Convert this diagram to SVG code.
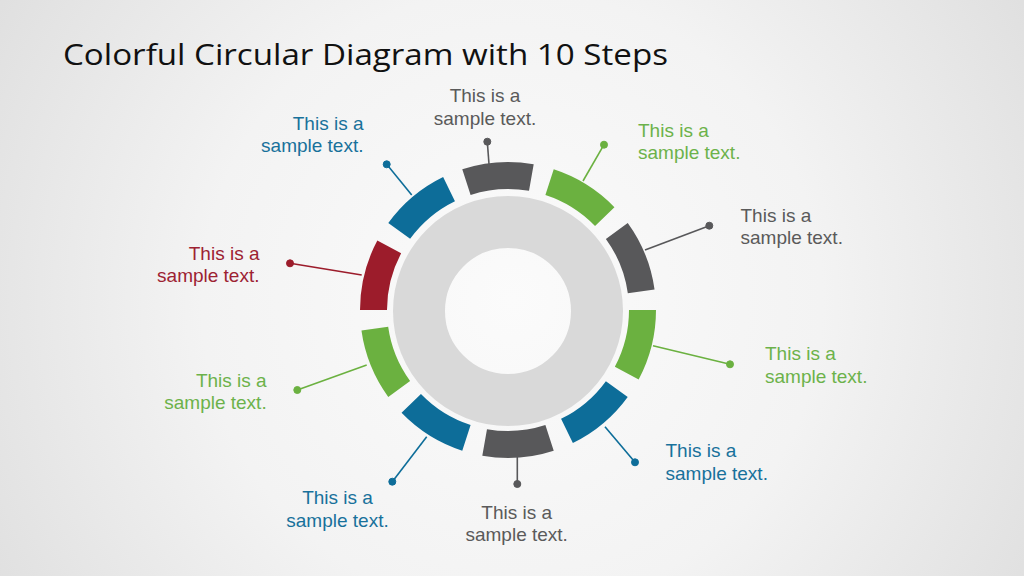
<svg xmlns="http://www.w3.org/2000/svg" xmlns:xlink="http://www.w3.org/1999/xlink" width="1024" height="576" viewBox="0 0 1024 576">
<defs>
<radialGradient id="bg" cx="512" cy="300" r="620" gradientUnits="userSpaceOnUse">
<stop offset="0" stop-color="#fbfbfb"/>
<stop offset="0.5" stop-color="#f3f3f3"/>
<stop offset="1" stop-color="#dedede"/>
</radialGradient>
<path id="seg" d="M143.60,-35.80 A148,148 0 0 1 143.60,35.80 L117.41,29.27 A121,121 0 0 0 117.41,-29.27 Z"/>
</defs>
<style>
.lbl{font-family:"Liberation Sans",Arial,sans-serif;font-size:19px}
.title{font-family:"Open Sans","Noto Sans",sans-serif;font-size:30px;fill:#111}
.gray{fill:#58585a}.green{fill:#6bb140}.blue{fill:#0d6d99}.red{fill:#9c1c2b}
.tgray{fill:#5a5a5a}.tgreen{fill:#6cb24a}.tblue{fill:#18719b}.tred{fill:#9d2232}
.cn line{stroke-width:1.6}
.cgray{stroke:#58585a;fill:#58585a}.cgreen{stroke:#6bb140;fill:#6bb140}.cblue{stroke:#0d6d99;fill:#0d6d99}.cred{stroke:#9c1c2b;fill:#9c1c2b}
</style>
<rect width="1024" height="576" fill="url(#bg)"/>
<text class="title" x="63" y="65" textLength="605" lengthAdjust="spacingAndGlyphs">Colorful Circular Diagram with 10 Steps</text>
<circle id="donut" cx="508" cy="311" r="89" fill="none" stroke="#d9d9d9" stroke-width="52"/>
<g id="connectors" class="cn">
<g class="cgray"><line x1="489" y1="164" x2="487.3" y2="141.7"/><circle cx="487.3" cy="141.7" r="3.5"/></g>
<g class="cgreen"><line x1="583" y1="181" x2="604" y2="144.7"/><circle cx="604" cy="144.7" r="3.5"/></g>
<g class="cgray"><line x1="645" y1="250" x2="709.3" y2="225.7"/><circle cx="709.3" cy="225.7" r="3.5"/></g>
<g class="cgreen"><line x1="653" y1="345.7" x2="730" y2="364.3"/><circle cx="730" cy="364.3" r="3.5"/></g>
<g class="cblue"><line x1="605" y1="426.7" x2="635" y2="462.3"/><circle cx="635" cy="462.3" r="3.5"/></g>
<g class="cgray"><line x1="517.3" y1="456" x2="517.3" y2="484"/><circle cx="517.3" cy="484" r="3.5"/></g>
<g class="cblue"><line x1="426.7" y1="436.7" x2="392.3" y2="481.7"/><circle cx="392.3" cy="481.7" r="3.5"/></g>
<g class="cgreen"><line x1="366.7" y1="365" x2="297.3" y2="390"/><circle cx="297.3" cy="390" r="3.5"/></g>
<g class="cred"><line x1="361.7" y1="275" x2="290" y2="263.3"/><circle cx="290" cy="263.3" r="3.5"/></g>
<g class="cblue"><line x1="411.7" y1="195" x2="386.7" y2="164.3"/><circle cx="386.7" cy="164.3" r="3.5"/></g>
</g>
<g id="step1"><use xlink:href="#seg" href="#seg" class="gray" transform="translate(508,310) rotate(-94)"/>
<text class="lbl tgray" text-anchor="middle"><tspan x="485" y="102">This is a</tspan><tspan x="485" y="124.5">sample text.</tspan></text></g>
<g id="step2"><use xlink:href="#seg" href="#seg" class="green" transform="translate(508,310) rotate(-58)"/>
<text class="lbl tgreen"><tspan x="638" y="136.5">This is a</tspan><tspan x="638" y="159">sample text.</tspan></text></g>
<g id="step3"><use xlink:href="#seg" href="#seg" class="gray" transform="translate(508,310) rotate(-22)"/>
<text class="lbl tgray"><tspan x="740.5" y="221.5">This is a</tspan><tspan x="740.5" y="244">sample text.</tspan></text></g>
<g id="step4"><use xlink:href="#seg" href="#seg" class="green" transform="translate(508,310) rotate(14)"/>
<text class="lbl tgreen"><tspan x="765" y="360">This is a</tspan><tspan x="765" y="382.5">sample text.</tspan></text></g>
<g id="step5"><use xlink:href="#seg" href="#seg" class="blue" transform="translate(508,310) rotate(50)"/>
<text class="lbl tblue"><tspan x="665.5" y="457">This is a</tspan><tspan x="665.5" y="479.5">sample text.</tspan></text></g>
<g id="step6"><use xlink:href="#seg" href="#seg" class="gray" transform="translate(508,310) rotate(86)"/>
<text class="lbl tgray" text-anchor="middle"><tspan x="516.7" y="518.5">This is a</tspan><tspan x="516.7" y="541">sample text.</tspan></text></g>
<g id="step7"><use xlink:href="#seg" href="#seg" class="blue" transform="translate(508,310) rotate(122)"/>
<text class="lbl tblue" text-anchor="middle"><tspan x="337.5" y="504">This is a</tspan><tspan x="337.5" y="526.5">sample text.</tspan></text></g>
<g id="step8"><use xlink:href="#seg" href="#seg" class="green" transform="translate(508,310) rotate(158)"/>
<text class="lbl tgreen" text-anchor="end"><tspan x="266.7" y="386.7">This is a</tspan><tspan x="266.7" y="409">sample text.</tspan></text></g>
<g id="step9"><use xlink:href="#seg" href="#seg" class="red" transform="translate(508,310) rotate(194)"/>
<text class="lbl tred" text-anchor="end"><tspan x="259.5" y="259.5">This is a</tspan><tspan x="259.5" y="282">sample text.</tspan></text></g>
<g id="step10"><use xlink:href="#seg" href="#seg" class="blue" transform="translate(508,310) rotate(230)"/>
<text class="lbl tblue" text-anchor="end"><tspan x="363.5" y="129.5">This is a</tspan><tspan x="363.5" y="152">sample text.</tspan></text></g>
</svg>
